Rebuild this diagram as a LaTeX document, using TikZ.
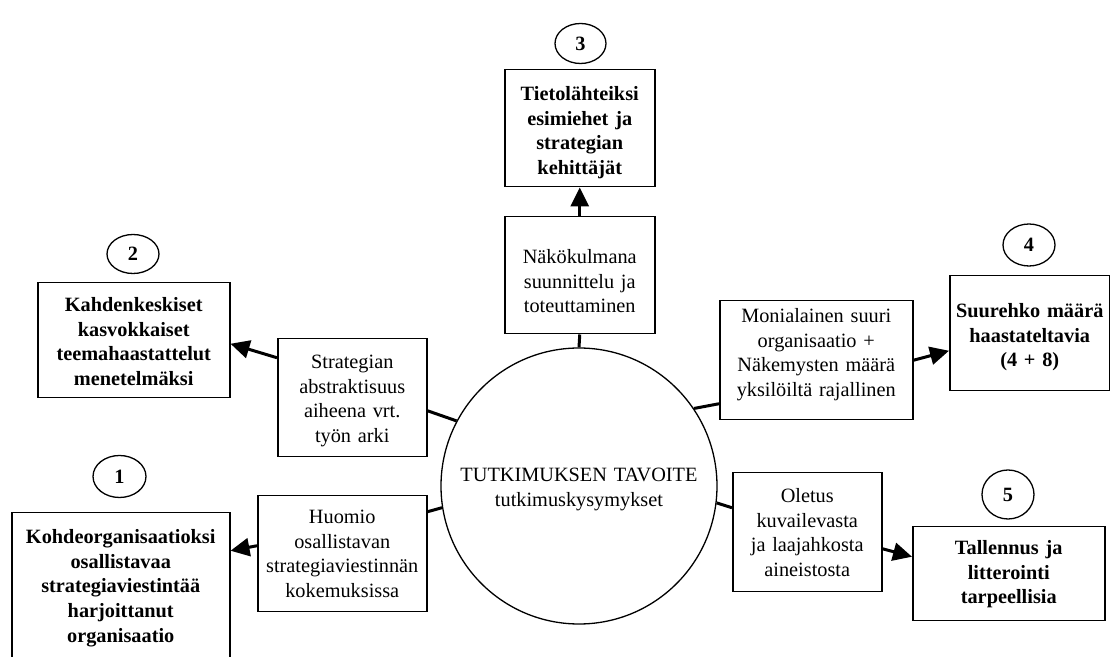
\documentclass[tikz,border=0pt]{standalone}
\usepackage{fontspec}
\setmainfont{Liberation Serif}
\usetikzlibrary{arrows.meta,shapes.geometric}

\begin{document}
\begin{tikzpicture}[
  x=0.5pt, y=-0.5pt,
  every node/.style={font=\fontsize{10.15pt}{12.3pt}\selectfont},
  % rectangular text box: #1 = width, #2 = height above first baseline, #3 = rest
  tbox/.style n args={3}{draw, line width=0.75pt, rectangle, anchor=north west,
    inner sep=0pt, align=center, text width=#1, text height=#2, text depth=#3},
  bbox/.style n args={3}{tbox={#1}{#2}{#3}, font=\fontsize{10.15pt}{12.3pt}\selectfont\bfseries},
  num/.style={draw, ellipse, line width=0.65pt, inner sep=0pt,
    font=\fontsize{10.15pt}{12pt}\selectfont\bfseries},
  goalstyle/.style={draw, circle, line width=0.65pt, minimum size=138pt, inner sep=0pt,
    align=center, text width=120pt, text height=5pt, text depth=9pt},
  link/.style={line width=1.5pt},
  arr/.style={line width=1.5pt, -{Triangle[length=9.5pt,width=9pt]}}
]
\clip (0,0) rectangle (1110,657);

% central goal
\node[goalstyle] (goal) at (579,486) {TUTKIMUKSEN TAVOITE\\tutkimuskysymykset};

% outcome boxes with their numbers
\node[bbox={75pt}{15.5pt}{43pt}] (b3) at (504,69) {Tietolähteiksi\\esimiehet ja\\strategian\\kehittäjät};
\node[num, minimum width=25.5pt, minimum height=20pt] (n3) at (580.5,43.5) {3};

\node[bbox={96pt}{14.5pt}{43pt}] (b2) at (37,282) {Kahdenkeskiset\\kasvokkaiset\\teemahaastattelut\\menetelmäksi};
\node[num, minimum width=26pt, minimum height=19.5pt] (n2) at (133,254) {2};

\node[bbox={109pt}{15.5pt}{68.5pt}] (b1) at (11,512) {Kohdeorganisaatioksi\\osallistavaa\\strategiaviestintää\\harjoittanut\\organisaatio};
\node[num, minimum width=26.5pt, minimum height=21pt] (n1) at (119.5,476.5) {1};

\node[bbox={80pt}{21pt}{36.5pt}] (b4) at (949,275) {Suurehko määrä\\haastateltavia\\(4 + 8)};
\node[num, minimum width=26pt, minimum height=21pt] (n4) at (1029,245) {4};

\node[bbox={96pt}{14pt}{33pt}] (b5) at (912,526) {Tallennus ja\\litterointi\\tarpeellisia};
\node[num, minimum width=26pt, minimum height=24.5pt] (n5) at (1008,494.5) {5};

% reasoning boxes between the goal and the outcomes
\node[tbox={75pt}{23.5pt}{35pt}] (view) at (504,216) {Näkökulmana\\suunnittelu ja\\toteuttaminen};
\node[tbox={74.5pt}{15pt}{44pt}] (strat) at (277,338) {Strategian\\abstraktisuus\\aiheena vrt.\\työn arki};
\node[tbox={84.5pt}{14pt}{44pt}] (huom) at (257,495) {Huomio\\osallistavan\\strategiaviestinnän\\kokemuksissa};
\node[tbox={96.5pt}{11pt}{48.5pt}] (moni) at (719,300) {Monialainen suuri\\organisaatio +\\Näkemysten määrä\\yksilöiltä rajallinen};
\node[tbox={74.5pt}{15pt}{44.5pt}] (olet) at (732,472) {Oletus\\kuvailevasta\\ja laajahkosta\\aineistosta};

% goal to reasoning boxes
\draw[link] (goal.north) -- (view.south);
\draw[link] (goal.152) -- ([yshift=-6.5pt]strat.east);
\draw[link] (goal.189) -- ([yshift=21pt]huom.east);
\draw[link] (goal.34) -- ([yshift=-21.75pt]moni.west);
\draw[link] (goal.-7) -- ([yshift=12.25pt]olet.west);

% reasoning boxes to outcomes
\draw[arr] (view.north) -- (b3.south);
\draw[arr] ([yshift=20pt]strat.west) -- ([yshift=-1.75pt]b2.east);
\draw[arr] ([yshift=4pt]huom.west) -- ([yshift=23pt]b1.east);
\draw[arr] (moni.east) -- ([yshift=-8.75pt]b4.west);
\draw[arr] ([yshift=-8.25pt]olet.east) -- ([yshift=8.5pt]b5.west);
\end{tikzpicture}
\end{document}
